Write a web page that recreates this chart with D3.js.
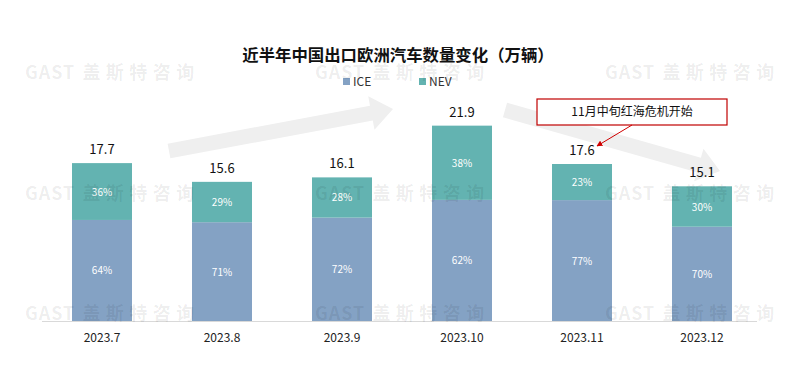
<!DOCTYPE html>
<html><head><meta charset="utf-8">
<script src="https://cdn.jsdelivr.net/npm/d3@7"></script>
<style>body{margin:0;background:#fff}svg{display:block}</style>
</head><body><div id="c"></div>
<script>
const categories = ["2023.7","2023.8","2023.9","2023.10","2023.11","2023.12"];
const totals = [17.7,15.6,16.1,21.9,17.6,15.1];
const icePct = [64,71,72,62,77,70];
const nevPct = [36,29,28,38,23,30];
const seriesNames = ["ICE","NEV"];
const title = "近半年中国出口欧洲汽车数量变化（万辆）";
const note = "11月中旬红海危机开始";
const watermarkLatin = "GAST";
const watermarkCJK = "盖斯特咨询";

const W=800,H=392;
const colors = {ICE:"#84a2c4", NEV:"#63b3b1"};
const font = "'Microsoft YaHei','Noto Sans CJK SC','Noto Sans',sans-serif";
const svg = d3.select("#c").append("svg").attr("width",W).attr("height",H).style("font-family",font);

const x = d3.scaleBand().domain(categories).range([42,762]).paddingInner(0.5).paddingOuter(0.25);
const y = d3.scaleLinear().domain([0,25]).range([321,98]);

// background arrows
const arrowPath = (x1,y1,x2,y2,w,hw,hl)=>{
  const a=Math.atan2(y2-y1,x2-x1), c=Math.cos(a), s=Math.sin(a);
  const px=-s, py=c;
  const bx=x2-c*hl, by=y2-s*hl;
  const pts=[[x1+px*w/2,y1+py*w/2],[bx+px*w/2,by+py*w/2],[bx+px*hw/2,by+py*hw/2],[x2,y2],[bx-px*hw/2,by-py*hw/2],[bx-px*w/2,by-py*w/2],[x1-px*w/2,y1-py*w/2]];
  return "M"+pts.map(p=>p.join(",")).join("L")+"Z";
};
svg.append("path").attr("d",arrowPath(169,151,393,109,15,34,22)).attr("fill","#efefef");
svg.append("path").attr("d",arrowPath(505,110,720,171,15,34,22)).attr("fill","#efefef");

// baseline
svg.append("line").attr("x1",42).attr("x2",757).attr("y1",y(0)+0.5).attr("y2",y(0)+0.5).attr("stroke","#d9d9d9");

const data = categories.map((c,i)=>({c, ice: totals[i]*icePct[i]/100, nev: totals[i]*nevPct[i]/100, t: totals[i], ip: icePct[i], np: nevPct[i]}));
const g = svg.append("g");
g.selectAll("rect.ice").data(data).join("rect").attr("class","ice")
  .attr("x",d=>x(d.c)).attr("width",x.bandwidth())
  .attr("y",d=>y(d.ice)).attr("height",d=>y(0)-y(d.ice)).attr("fill",colors.ICE);
g.selectAll("rect.nev").data(data).join("rect").attr("class","nev")
  .attr("x",d=>x(d.c)).attr("width",x.bandwidth())
  .attr("y",d=>y(d.t)).attr("height",d=>y(d.ice)-y(d.t)).attr("fill",colors.NEV);

g.selectAll("text.ip").data(data).join("text")
  .attr("x",d=>x(d.c)+x.bandwidth()/2).attr("y",d=>(y(0)+y(d.ice))/2+4)
  .attr("text-anchor","middle").attr("font-size",10).attr("fill","#fff").text(d=>d.ip+"%");
g.selectAll("text.np").data(data).join("text")
  .attr("x",d=>x(d.c)+x.bandwidth()/2).attr("y",d=>(y(d.ice)+y(d.t))/2+4)
  .attr("text-anchor","middle").attr("font-size",10).attr("fill","#fff").text(d=>d.np+"%");
g.selectAll("text.tot").data(data).join("text")
  .attr("x",d=>x(d.c)+x.bandwidth()/2).attr("y",d=>y(d.t)-9)
  .attr("text-anchor","middle").attr("font-size",13).attr("fill","#111").text(d=>d.t.toFixed(1));

// x axis
const xa = svg.append("g").attr("transform",`translate(0,${y(0)})`).call(d3.axisBottom(x).tickSize(0).tickPadding(12));
xa.select(".domain").remove();
xa.selectAll("text").attr("font-size",12).attr("fill","#222").style("font-family",font);

// title
svg.append("text").attr("x",398).attr("y",61).attr("text-anchor","middle").attr("font-size",16.4).attr("font-weight","bold").attr("fill","#111").text(title);

// legend
const lg = svg.append("g");
const lx=[343,419];
seriesNames.forEach((s,i)=>{
  lg.append("rect").attr("x",lx[i]).attr("y",78).attr("width",7).attr("height",7).attr("fill",colors[s]);
  lg.append("text").attr("x",lx[i]+10).attr("y",86).attr("font-size",12).attr("fill","#333").text(s);
});

// annotation
svg.append("defs").append("marker").attr("id","ah").attr("viewBox","0 0 10 10").attr("refX",9).attr("refY",5)
  .attr("markerWidth",6).attr("markerHeight",6).attr("orient","auto")
  .append("path").attr("d","M0,0L10,5L0,10Z").attr("fill","#d00000");
svg.append("rect").attr("x",537).attr("y",99).attr("width",190).attr("height",26).attr("fill","#fff").attr("stroke","#c00000").attr("stroke-width",1.2);
svg.append("text").attr("x",632).attr("y",116).attr("text-anchor","middle").attr("font-size",12).attr("fill","#111").text(note);
svg.append("line").attr("x1",632).attr("y1",125).attr("x2",597).attr("y2",146).attr("stroke","#d00000").attr("stroke-width",1).attr("marker-end","url(#ah)");

// watermarks
const wm = svg.append("g").attr("pointer-events","none");
[72,193,313].forEach(yy=>{
  [25,315,605].forEach(xx=>{
    const t = wm.append("text").attr("x",xx).attr("y",yy+7).attr("font-size",18).attr("font-weight","bold")
      .attr("fill","#000").attr("fill-opacity",0.08);
    t.append("tspan").attr("letter-spacing",1).text(watermarkLatin);
    t.append("tspan").attr("dx",7).attr("letter-spacing",5.5).text(watermarkCJK);
  });
});
</script></body></html>
